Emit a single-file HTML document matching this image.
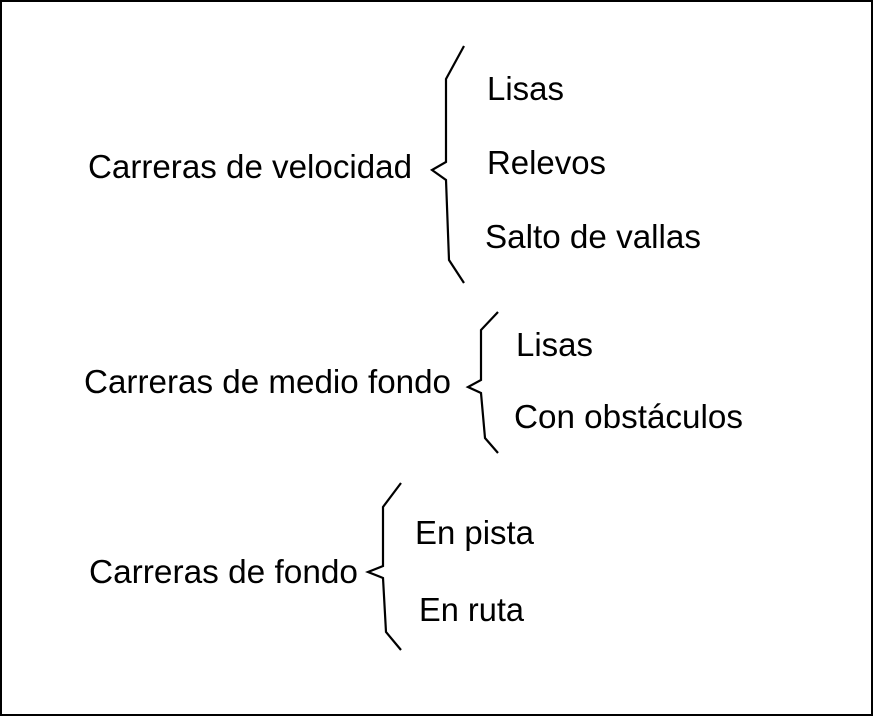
<!DOCTYPE html>
<html><head><meta charset="utf-8"><style>
html,body{margin:0;padding:0;background:#fff}
svg{display:block}
text{font-family:"Liberation Sans",Arial,sans-serif;font-size:33px;fill:#000}
</style></head><body>
<svg width="874" height="717" viewBox="0 0 874 717">
<rect x="1" y="1" width="871" height="714" fill="#fff" stroke="#000" stroke-width="2"/>
<g fill="none" stroke="#000" stroke-width="2.2" stroke-linejoin="miter">
<polyline points="464,46 446,79 446,162 432,170 446,180 449,260 464,283"/>
<polyline points="498,312 481,330 481,380 468,387 481,393 485,438 498,453"/>
<polyline points="401,483 383,507 383,566 368,572 383,578 386,632 401,650"/>
</g>
<text x="88" y="178" textLength="324" lengthAdjust="spacingAndGlyphs">Carreras de velocidad</text>
<text x="487" y="100" textLength="77" lengthAdjust="spacingAndGlyphs">Lisas</text>
<text x="487" y="174" textLength="119" lengthAdjust="spacingAndGlyphs">Relevos</text>
<text x="485" y="248" textLength="216" lengthAdjust="spacingAndGlyphs">Salto de vallas</text>
<text x="84" y="393" textLength="367" lengthAdjust="spacingAndGlyphs">Carreras de medio fondo</text>
<text x="516" y="356" textLength="77" lengthAdjust="spacingAndGlyphs">Lisas</text>
<text x="514" y="428" textLength="229" lengthAdjust="spacingAndGlyphs">Con obstáculos</text>
<text x="89" y="583" textLength="269" lengthAdjust="spacingAndGlyphs">Carreras de fondo</text>
<text x="415" y="544" textLength="119" lengthAdjust="spacingAndGlyphs">En pista</text>
<text x="419" y="621" textLength="105" lengthAdjust="spacingAndGlyphs">En ruta</text>
</svg>
</body></html>
